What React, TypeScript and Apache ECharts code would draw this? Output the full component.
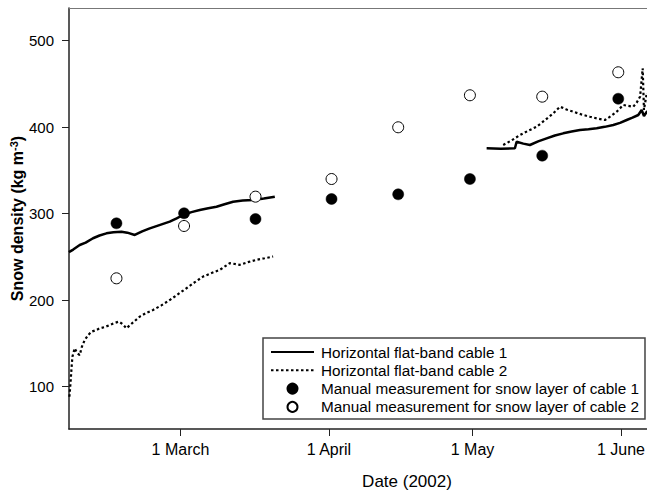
import React, { useEffect, useRef } from "react";
import * as echarts from "echarts";

// x values are day-of-year 2002 (1 Jan = 1)
const xTickDays = [60, 91, 121, 152];
const xTickLabels = ["1 March", "1 April", "1 May", "1 June"];
const yTicks = [100, 200, 300, 400, 500];

const cable1Early: [number, number][] = [
  [36.7, 255.5], [37.6, 258.5], [38.96, 263.8], [40.2, 266.5], [41.74, 271.6], [43.1, 274.8],
  [44.54, 277.3], [46.0, 278.6], [47.67, 279.2], [48.9, 278.1], [50.45, 275.4], [52.0, 279.6],
  [53.59, 283.1], [55.6, 286.8], [57.76, 290.8], [59.2, 294.6], [60.54, 298.5], [62.3, 301.8],
  [64.03, 304.3], [65.8, 306.4], [67.52, 308.1], [69.2, 311.0], [70.99, 313.9], [73.0, 315.2],
  [75.17, 315.8], [77.4, 317.5], [79.7, 319.7],
];
const cable2Early: [number, number][] = [
  [36.8, 88.4], [36.95, 98.0], [37.08, 107.7], [37.25, 122.0], [37.43, 134.7], [37.91, 144.4],
  [38.4, 139.0], [38.96, 136.6], [39.4, 146.0], [40.0, 154.0], [40.7, 159.5], [41.4, 163.6],
  [42.3, 165.2], [43.14, 167.5], [44.2, 169.0], [45.23, 171.3], [46.2, 173.6], [47.14, 175.2],
  [47.9, 172.4], [48.72, 167.5], [50.1, 174.3], [51.5, 181.0], [52.9, 185.4], [54.27, 188.7],
  [56.0, 194.0], [57.76, 200.2], [59.5, 207.0], [61.25, 213.8], [63.0, 220.8], [64.72, 227.3],
  [66.5, 231.4], [68.21, 235.1], [70.3, 242.8], [72.39, 240.9], [74.1, 244.0], [75.88, 246.7],
  [77.6, 248.5], [79.35, 250.5],
];
const cable1Late: [number, number][] = [
  [123.94, 375.6], [126.9, 375.2], [129.85, 375.6], [130.2, 383.2], [131.6, 381.0],
  [132.98, 379.4], [134.7, 383.6], [136.47, 387.1], [138.2, 390.4], [139.94, 392.9],
  [141.7, 395.0], [143.43, 396.8], [145.2, 397.6], [146.92, 398.7], [148.6, 400.4],
  [150.39, 402.5], [151.8, 405.0], [153.19, 408.3], [154.4, 411.0], [155.61, 414.1],
  [156.32, 419.9], [156.8, 413.0], [157.4, 418.0], [158.5, 419.0],
];
const cable2Late: [number, number][] = [
  [127.4, 379.4], [129.1, 384.6], [130.9, 390.9], [132.6, 395.8], [134.38, 400.6],
  [136.1, 408.0], [137.85, 416.0], [139.25, 423.7], [140.6, 420.5], [142.03, 417.9],
  [143.8, 414.6], [145.52, 412.1], [147.1, 410.0], [148.66, 408.3], [149.9, 412.8],
  [151.1, 417.9], [152.48, 425.7], [153.5, 424.6], [154.57, 423.7], [155.3, 428.6],
  [155.99, 435.3], [156.53, 468.1], [156.8, 420.0], [157.4, 440.0], [158.5, 438.0],
];
const manualCable1: [number, number][] = [
  [46.63, 288.9], [60.75, 300.5], [75.67, 293.9], [91.55, 317.0],
  [105.47, 322.4], [120.45, 340.1], [135.55, 367.1], [151.43, 432.9],
];
const manualCable2: [number, number][] = [
  [46.63, 225.3], [60.75, 285.8], [75.67, 319.7], [91.55, 340.1],
  [105.47, 399.9], [120.45, 436.9], [135.55, 435.3], [151.43, 463.5],
];

const NAME_C1 = "Horizontal flat-band cable 1";
const NAME_C2 = "Horizontal flat-band cable 2";
const NAME_M1 = "Manual measurement for snow layer of cable 1";
const NAME_M2 = "Manual measurement for snow layer of cable 2";

const FONT = "'Liberation Sans', Arial, Helvetica, sans-serif";

export default function App() {
  const ref = useRef<HTMLDivElement>(null);
  useEffect(() => {
    if (!ref.current) return;
    const chart = echarts.init(ref.current, undefined, { renderer: "svg" });
    const solid = { color: "#000", width: 2.5, type: "solid" as const };
    const dotted = { color: "#000", width: 2.2, type: [2.5, 2.5] as any };
    chart.setOption({
      animation: false,
      backgroundColor: "#fff",
      textStyle: { fontFamily: FONT, color: "#000" },
      grid: { left: 69, top: 8, right: -98, bottom: 64, containLabel: false, outerBoundsMode: "none" },
      xAxis: [
        {
          type: "value",
          min: 36.72,
          max: 177.9,
          name: "Date (2002)",
          nameLocation: "middle",
          nameGap: 44,
          nameMoveOverlap: false,
          nameTextStyle: { fontSize: 17, color: "#000", fontFamily: FONT },
          axisLine: { show: true, onZero: false, lineStyle: { color: "#222", width: 1.5 } },
          axisTick: { show: true, length: 7, customValues: xTickDays, lineStyle: { color: "#222", width: 1 } },
          axisLabel: {
            customValues: xTickDays,
            margin: 12,
            fontSize: 16,
            color: "#000",
            fontFamily: FONT,
            formatter: (v: number) => {
              const i = xTickDays.indexOf(Math.round(v));
              return i >= 0 ? xTickLabels[i] : "";
            },
          },
          splitLine: { show: false },
        },
        {
          type: "value",
          position: "top",
          min: 36.72,
          max: 177.9,
          axisLine: { show: true, lineStyle: { color: "#777", width: 1 } },
          axisTick: { show: false },
          axisLabel: { show: false },
          splitLine: { show: false },
        },
      ],
      yAxis: {
        type: "value",
        min: 51.1,
        max: 537.8,
        name: "{a|Snow density (kg m}{s|-3}{a|)}",
        nameLocation: "middle",
        nameGap: 42,
        nameMoveOverlap: false,
        nameTextStyle: {
          rich: {
            a: { fontSize: 16, fontWeight: "bold", color: "#000", fontFamily: FONT, lineHeight: 19 },
            s: { fontSize: 11, fontWeight: "bold", color: "#000", fontFamily: FONT, verticalAlign: "top", lineHeight: 19, padding: [0, 0, 6, 0] },
          },
        },
        axisLine: { show: true, onZero: false, lineStyle: { color: "#222", width: 1.5 } },
        axisTick: { show: true, length: 7, customValues: yTicks, lineStyle: { color: "#222", width: 1 } },
        axisLabel: { customValues: yTicks, margin: 15, fontSize: 15, color: "#000", fontFamily: FONT },
        splitLine: { show: false },
      },
      legend: {
        orient: "vertical",
        left: 263,
        top: 338,
        padding: [6, 6, 4, 7],
        itemWidth: 43,
        itemHeight: 10,
        itemGap: 2.3,
        backgroundColor: "#fff",
        borderColor: "#444",
        borderWidth: 1.5,
        borderRadius: 0,
        textStyle: { fontSize: 15.3, color: "#000", fontFamily: FONT, lineHeight: 16, padding: [0, 0, 0, 2] },
        data: [
          { name: NAME_C1, itemStyle: { opacity: 0 } },
          { name: NAME_C2, itemStyle: { opacity: 0 } },
          NAME_M1,
          NAME_M2,
        ],
      },
      series: [
        { name: NAME_C1, type: "line", data: cable1Early, symbol: "none", lineStyle: solid, itemStyle: { color: "#000" }, z: 3 },
        { name: NAME_C1, type: "line", data: cable1Late, symbol: "none", lineStyle: solid, itemStyle: { color: "#000" }, z: 3 },
        { name: NAME_C2, type: "line", data: cable2Early, symbol: "none", lineStyle: dotted, itemStyle: { color: "#000" }, z: 3 },
        { name: NAME_C2, type: "line", data: cable2Late, symbol: "none", lineStyle: dotted, itemStyle: { color: "#000" }, z: 3 },
        {
          name: NAME_M1, type: "scatter", data: manualCable1, symbol: "circle", symbolSize: 11,
          itemStyle: { color: "#000", borderColor: "#000", borderWidth: 0.5, opacity: 1 }, z: 4,
        },
        {
          name: NAME_M2, type: "scatter", data: manualCable2, symbol: "circle", symbolSize: 11,
          itemStyle: { color: "#fff", borderColor: "#000", borderWidth: 1, opacity: 1 }, z: 4,
        },
      ],
    });
    return () => chart.dispose();
  }, []);
  return (
    <div
      ref={ref}
      style={{ position: "absolute", left: 0, top: 0, width: 647, height: 493, overflow: "hidden" }}
    />
  );
}
